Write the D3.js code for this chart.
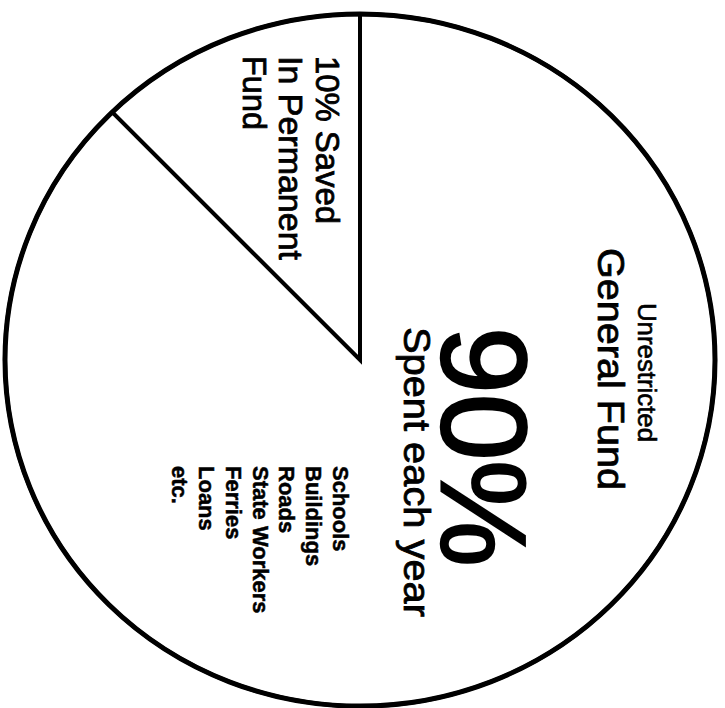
<!DOCTYPE html>
<html>
<head>
<meta charset="utf-8">
<script src="https://cdn.jsdelivr.net/npm/d3@7.9.0/dist/d3.min.js"></script>
<style>
  body { margin: 0; background: #fff; }
  text { font-family: "Liberation Sans", Arial, Helvetica, sans-serif; fill: #000; stroke: #000; }
</style>
</head>
<body>
<div id="vis"></div>
<script>
// slice shares as drawn (saved wedge is drawn a bit wider than 10%)
const sliceNames = ["Permanent Fund", "General Fund"];
const sliceShares = [12.3, 87.7];

const savedLines = ["10% Saved", "In Permanent", "Fund"];
const generalTitle = ["Unrestricted", "General Fund"];
const bigNumber = "90%";
const spentLabel = "Spent each year";
const spentItems = ["Schools", "Buildings", "Roads", "State Workers", "Ferries", "Loans", "etc."];

const width = 725;
const height = 708;
const cx = 360;
const cy = 360;
const radius = 355;
const squash = 0.975; // picture is slightly taller-than-wide ellipse

const svg = d3
  .select("#vis")
  .append("svg")
  .attr("width", width)
  .attr("height", height);

const savedAngle = (2 * Math.PI * sliceShares[0]) / d3.sum(sliceShares);
const pie = d3
  .pie()
  .sort(null)
  .value((d) => d)
  .startAngle(-savedAngle)
  .endAngle(2 * Math.PI - savedAngle);

const arc = d3.arc().innerRadius(0).outerRadius(radius);

const pieG = svg
  .append("g")
  .attr("transform", `translate(${cx},${cy}) scale(1,${squash})`);

pieG
  .selectAll("path.slice")
  .data(pie(sliceShares))
  .enter()
  .append("path")
  .attr("class", "slice")
  .attr("d", arc)
  .attr("fill", "#fff")
  .attr("stroke", "#000")
  .attr("stroke-width", 4)
  .attr("stroke-linejoin", "miter")
  .attr("vector-effect", "non-scaling-stroke");

// outer rim a little heavier
pieG
  .append("circle")
  .attr("r", radius)
  .attr("fill", "none")
  .attr("stroke", "#000")
  .attr("stroke-width", 5)
  .attr("vector-effect", "non-scaling-stroke");

// all text runs top-to-bottom (rotated 90deg)
function vText(str, x, y, size, opts = {}) {
  const t = svg
    .append("text")
    .attr("transform", `translate(${x},${y}) rotate(90)`)
    .attr("font-size", size)
    .attr("font-weight", opts.bold ? "bold" : "normal")
    .attr("stroke-width", opts.sw || 0.8)
    .text(str);
  if (opts.len) t.attr("textLength", opts.len).attr("lengthAdjust", "spacingAndGlyphs");
  return t;
}

// saved wedge label
const savedX = [316, 279, 243];
const savedLen = [168, 204, 74];
savedLines.forEach((s, i) => vText(s, savedX[i], 56, 33, { len: savedLen[i] }));

// general fund labels
vText(generalTitle[0], 638, 303, 25, { len: 139, sw: 0.6 });
vText(generalTitle[1], 598, 248, 37, { len: 242 });
vText(bigNumber, 442, 327, 120, { len: 240, sw: 2.5 });
vText(spentLabel, 404, 327, 37, { len: 290 });

// spending list
spentItems.forEach((s, i) => vText(s, 333 - i * 26.8, 466, 22, { bold: true, sw: 0.5 }));
</script>
</body>
</html>
